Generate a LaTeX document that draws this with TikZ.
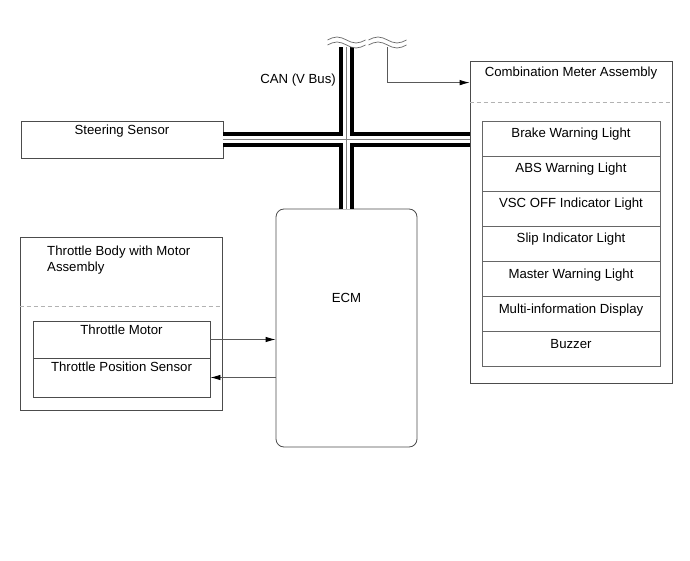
\documentclass[tikz,border=0pt]{standalone}
\usepackage{fontspec}
\setmainfont{Liberation Sans}
\usetikzlibrary{arrows.meta,calc}

\begin{document}
\begin{tikzpicture}[x=1pt, y=-1pt,
    box/.style={draw=black!70, line width=0.8pt, inner sep=0pt},
    row/.style={draw=black!60, line width=0.8pt, minimum width=178pt, minimum height=35.1pt, inner sep=0pt},
    txt/.style={font=\fontsize{13.2}{16}\selectfont, inner sep=0pt},
    divider/.style={draw=black!30, line width=0.8pt, dash pattern=on 4pt off 3pt},
    arrow/.style={-{Latex[length=10pt,width=5.5pt,color=black]}, draw=black!65, line width=0.8pt},
    busout/.style={line width=15pt, black},
    busin/.style={line width=7.5pt, white},
    buswire/.style={line width=0.7pt, black!50},
    wave/.style={draw=black!60, line width=0.7pt}
]
\useasboundingbox (0,0) rectangle (690,561);

% Steering sensor
\node[box, minimum width=202pt, minimum height=37pt] (steer) at (122,139.5) {};
\node[txt, anchor=base] (steerlbl) at ($(steer.north)+(0,14)$) {Steering Sensor};

% Combination meter with its lamps
\node[box, minimum width=202pt, minimum height=322pt] (meter) at (571,222) {};
\node[txt, anchor=base] (meterlbl) at ($(meter.north)+(0,16)$) {Combination Meter Assembly};
\draw[divider] (meter.west |- 0,102) -- (meter.east |- 0,102);
\foreach \name [count=\i from 0] in {Brake Warning Light, ABS Warning Light, VSC OFF Indicator Light, Slip Indicator Light, Master Warning Light, Multi-information Display, Buzzer} {
    \node[row] (lamp\i) at (571, 138.55+35.1*\i) {};
    \node[txt, anchor=base] (lamplbl\i) at ($(lamp\i.north)+(0,17)$) {\name};
}

% Throttle body
\node[box, minimum width=202pt, minimum height=173pt] (tbody) at (121,323.5) {};
\node[txt, anchor=north west, align=left] (tbodylbl) at (47,245.5) {Throttle Body with Motor\\Assembly};
\draw[divider] (tbody.west |- 0,306) -- (tbody.east |- 0,306);
\node[box, minimum width=177pt, minimum height=37pt] (tmotor) at (121.5,339.5) {};
\node[txt, anchor=base] (tmotorlbl) at ($(tmotor.north)+(0,14)$) {Throttle Motor};
\node[box, minimum width=177pt, minimum height=39pt] (tps) at (121.5,377.5) {};
\node[txt, anchor=base] (tpslbl) at ($(tps.north)+(0,14)$) {Throttle Position Sensor};

% ECM
\node[box, rounded corners=8pt, minimum width=141pt, minimum height=238pt] (ecm) at (346.5,328) {};
\node[txt, anchor=base] (ecmlbl) at ($(ecm.north)+(0,94)$) {ECM};

% Throttle signals
\draw[arrow] (tmotor.east) -- (tmotor.east -| ecm.west);
\draw[arrow] (tps.east -| ecm.west) -- (tps.east);

% CAN bus
\coordinate (bustop) at (346.5,47);
\coordinate (meterbus) at (387.5,47);
\foreach \s in {busout, busin, buswire} {
    \draw[\s] (steer.east) -- (steer.east -| meter.west);
    \draw[\s] (bustop) -- (ecm.north);
}
\foreach \wx in {346.5, 387.5}
    \foreach \wy in {40, 45}
        \draw[wave] (\wx-19,\wy) sin (\wx-9.5,\wy-3) cos (\wx,\wy) sin (\wx+9.5,\wy+3) cos (\wx+19,\wy);
\node[txt, anchor=base east] (canlbl) at (336,84) {CAN (V Bus)};
\draw[arrow] (meterbus) |- ([yshift=-22pt]meter.north west);

\end{tikzpicture}
\end{document}
